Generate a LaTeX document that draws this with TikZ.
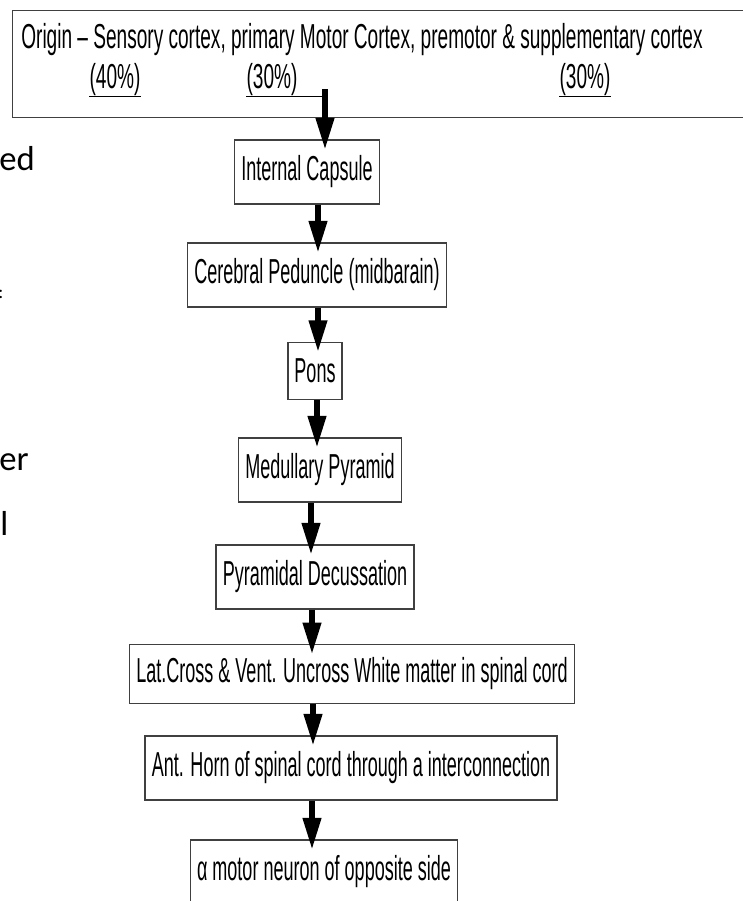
\documentclass[tikz,border=0pt]{standalone}
\usepackage{fontspec}
\setmainfont{Liberation Sans}[FakeStretch=0.52]
\newfontfamily\originfont{Liberation Sans}[FakeStretch=0.55]
\newfontfamily\slidefont{Carlito}
\usetikzlibrary{arrows.meta,positioning}
\definecolor{bxline}{HTML}{404040}

\tikzset{
  stage/.style={draw=bxline,line width=1.1pt,fill=white,inner xsep=5pt,minimum height=48pt,font=\fontsize{26}{30}\selectfont},
  label/.style={inner sep=0pt,font=\originfont\fontsize{26}{30}\selectfont},
  flow/.style={line width=4.5pt,-{Triangle[length=24pt,width=13pt]},shorten >=-8pt},
  frag/.style={anchor=base west,inner sep=0pt,font=\slidefont\fontsize{26}{30}\selectfont}
}

\begin{document}
\begin{tikzpicture}[x=0.75pt,y=-0.75pt]
\useasboundingbox (0,0) rectangle (743,901);
\clip (0,0) rectangle (743,901);
% origin box
\node[stage,anchor=north west,minimum width=561pt,minimum height=80.25pt] (top) at (12,10) {};
\node[label] (origin) at (362,40) {Origin – Sensory cortex, primary Motor Cortex, premotor \& supplementary cortex};
\node[label] (pfirst) at (115,80) {(40\%)};
\node[label] (pmid) at (272,80) {(30\%)};
\node[label] (plast) at (585,80) {(30\%)};
\coordinate (split) at (325,97);
\draw[line width=0.9pt] (pfirst.south west) -- (pfirst.south east);
\draw[line width=0.9pt] (plast.south west) -- (plast.south east);
\draw[line width=0.9pt] (pmid.south west) -- (pmid.south -| split);
% pathway
\node[stage] (internal) at (307,172) {Internal Capsule};
\node[stage] (cerebral) at (317,275) {Cerebral Peduncle (midbarain)};
\node[stage,minimum height=43pt] (pons) at (315,371) {Pons};
\node[stage] (medullary) at (320,470) {Medullary Pyramid};
\node[stage] (pyramidal) at (315,577) {Pyramidal Decussation};
\node[stage,minimum height=44pt] (latcross) at (352,674) {Lat.Cross \& Vent. Uncross White matter in spinal cord};
\node[stage] (anthorn) at (351,768) {Ant. Horn of spinal cord through a interconnection};
\node[stage] (motor) at (324,872) {α motor neuron of opposite side};
\draw[flow] ([yshift=6pt]split) -- (internal.north -| split);
\draw[flow] (internal.south -| 318,0) -- (cerebral.north -| 318,0);
\draw[flow] (cerebral.south -| 318,0) -- (pons.north -| 318,0);
\draw[flow] (pons.south -| 317,0) -- (medullary.north -| 317,0);
\draw[flow] (medullary.south -| 311,0) -- (pyramidal.north -| 311,0);
\draw[flow] (pyramidal.south -| 312,0) -- (latcross.north -| 312,0);
\draw[flow] (latcross.south -| 313,0) -- (anthorn.north -| 313,0);
\draw[flow] (anthorn.south -| 312,0) -- (motor.north -| 312,0);
% slide text cut off at the left
\node[frag] (fraged) at (-1,170) {ed};
\node[frag,font=\slidefont\fontsize{14}{16}\selectfont] (fragcolon) at (-2,298) {:};
\node[frag] (frager) at (-1,470) {er};
\node[frag] (fragl) at (0,535) {l};
\end{tikzpicture}
\end{document}
